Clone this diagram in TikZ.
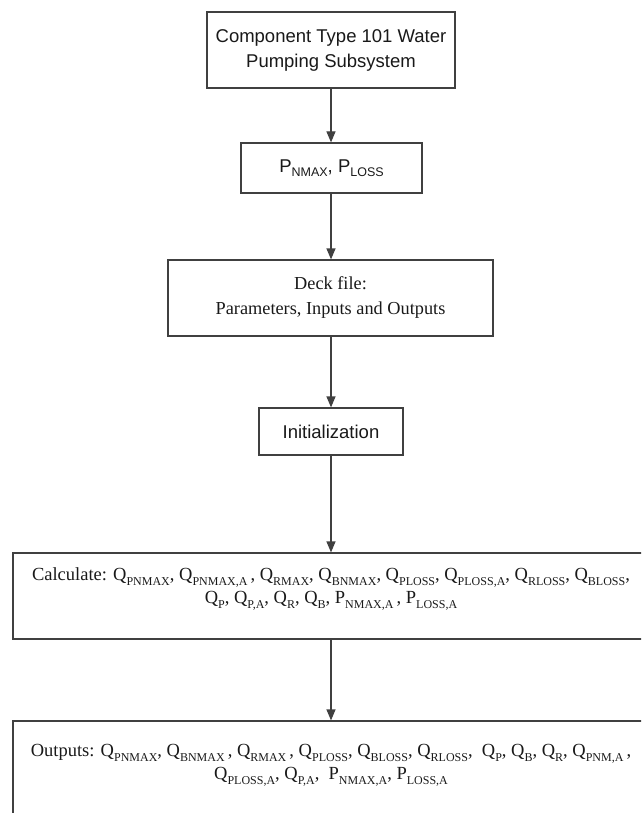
\documentclass[tikz,border=0pt]{standalone}
\usepackage{fontspec}
\setmainfont{Liberation Serif}
\newfontfamily\arialfont{Liberation Sans}
\usetikzlibrary{arrows.meta}

% lowered subscript in the style of a word processor
\newcommand\dn[1]{\raisebox{-4.5pt}{\fontsize{12}{12}\selectfont #1}}
\newcommand\dns[1]{\raisebox{-4.5pt}{\fontsize{12.5}{12}\selectfont #1}}

\tikzset{
  frame/.style={draw=black!75, line width=1.2pt, inner sep=0pt, align=center,
                text=black!90},
  sansbox/.style={frame, font=\arialfont\fontsize{18.5}{25}\selectfont},
  serifbox/.style={frame, font=\fontsize{18.3}{25}\selectfont},
  calcbox/.style={frame, font=\fontsize{18.5}{23}\selectfont},
  flow/.style={draw=black!75, line width=1.2pt, -{Triangle[length=11pt,width=9pt]}},
}

\begin{document}
\begin{tikzpicture}[x=1pt, y=-1pt]
  \useasboundingbox (0,0) rectangle (641,813);
  \clip (0,0) rectangle (641,813);

  \node[sansbox, minimum width=248, minimum height=76] (b1) at (331,50)
    {Component Type 101 Water\\Pumping Subsystem};
  \node[sansbox, minimum width=181, minimum height=50] (b2) at (331.5,168)
    {P\dns{NMAX}, P\dns{LOSS}};
  \node[serifbox, minimum width=325, minimum height=76] (b3) at (330.5,298)
    {Deck file:\\Parameters, Inputs and Outputs};
  \node[sansbox, minimum width=144, minimum height=47] (b4) at (331,431.5)
    {Initialization};
  \node[calcbox, minimum width=636, minimum height=86] (b5) at (331,596)
    {Calculate: Q\dn{PNMAX}, Q\dn{PNMAX,A}\,, Q\dn{RMAX}, Q\dn{BNMAX}, Q\dn{PLOSS}, Q\dn{PLOSS,A}, Q\dn{RLOSS}, Q\dn{BLOSS},\\
     Q\dn{P}, Q\dn{P,A}, Q\dn{R}, Q\dn{B}, P\dn{NMAX,A}\,, P\dn{LOSS,A}\rule[-20pt]{0pt}{0pt}};
  \node[calcbox, minimum width=636, minimum height=140] (b6) at (331,791)
    {Outputs: Q\dn{PNMAX}, Q\dn{BNMAX}\,, Q\dn{RMAX}\,, Q\dn{PLOSS}, Q\dn{BLOSS}, Q\dn{RLOSS}, \ Q\dn{P}, Q\dn{B}, Q\dn{R}, Q\dn{PNM,A}\,,\\
     Q\dn{PLOSS,A}, Q\dn{P,A}, \ P\dn{NMAX,A}, P\dn{LOSS,A}\rule[-58pt]{0pt}{0pt}};

  \draw[flow] (b1.south) -- (b1.south |- b2.north);
  \draw[flow] (b2.south -| b1.south) -- (b1.south |- b3.north);
  \draw[flow] (b3.south -| b1.south) -- (b1.south |- b4.north);
  \draw[flow] (b4.south) -- (b5.north);
  \draw[flow] (b5.south) -- (b6.north);
\end{tikzpicture}
\end{document}
